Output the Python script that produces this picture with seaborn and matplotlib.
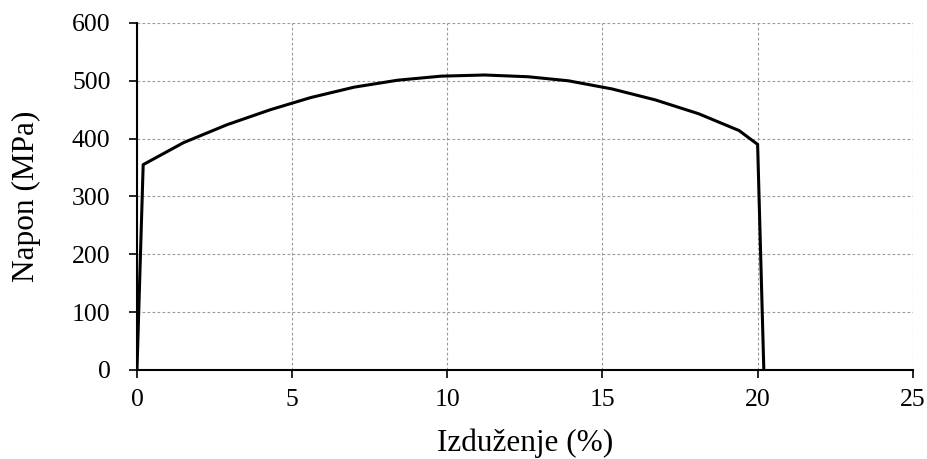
import matplotlib
matplotlib.use("Agg")
import matplotlib.pyplot as plt
import seaborn as sns
import pandas as pd

# Stress-strain curve of the tested steel specimen
izduzenje = [0.0, 0.2, 1.5, 2.9, 4.3, 5.6, 7.0, 8.4, 9.8, 11.2, 12.6, 13.9,
             15.3, 16.7, 18.1, 19.4, 20.0, 20.2]
napon = [0, 355, 393, 424, 450, 471, 489, 501, 508, 510, 507, 500,
         486, 467, 443, 414, 390, 0]

x_ticks = [0, 5, 10, 15, 20, 25]
y_ticks = [0, 100, 200, 300, 400, 500, 600]

df = pd.DataFrame({"Izduzenje": izduzenje, "Napon": napon})

sns.set_theme(style="white")
plt.rcParams["font.family"] = ["Liberation Serif", "DejaVu Serif"]

fig = plt.figure(figsize=(9.28, 4.59), dpi=100)
ax = fig.add_axes([0.1476, 0.194, 0.836, 0.756])

sns.lineplot(data=df, x="Izduzenje", y="Napon", sort=False, color="black",
             linewidth=2.2, ax=ax, zorder=3)

ax.set_xlim(0, 25)
ax.set_ylim(0, 600)
ax.set_xticks(x_ticks)
ax.set_yticks(y_ticks)
ax.grid(True, color="#9a9a9a", linestyle=(0, (2.5, 2)), linewidth=0.8)
ax.set_axisbelow(True)

for side in ("top", "right"):
    ax.spines[side].set_visible(False)
for side in ("left", "bottom"):
    ax.spines[side].set_color("black")
    ax.spines[side].set_linewidth(1.5)

ax.tick_params(axis="both", direction="out", length=6, width=1.2,
               color="black", labelsize=18.5, labelcolor="black",
               left=True, bottom=True)
ax.tick_params(axis="x", pad=8)
ax.tick_params(axis="y", pad=13)

ax.set_xlabel("Izduženje (%)", fontsize=22.5, color="black", labelpad=12)
ax.set_ylabel("Napon (MPa)", fontsize=22.5, color="black", labelpad=22)

fig.savefig("out.png", dpi=100)
